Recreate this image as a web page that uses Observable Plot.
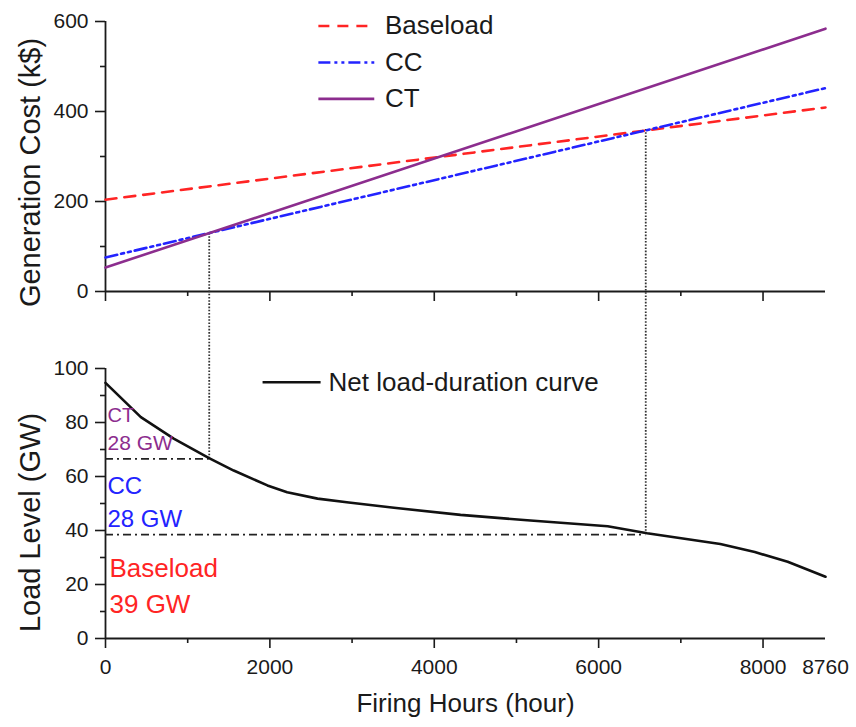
<!DOCTYPE html>
<html>
<head>
<meta charset="utf-8">
<script src="https://cdn.jsdelivr.net/npm/d3@7"></script>
<script src="https://cdn.jsdelivr.net/npm/@observablehq/plot@0.6"></script>
<style>
  html, body { margin: 0; padding: 0; background: #fff; overflow: hidden; }
  #chart { width: 856px; }
  #chart svg { display: block; }
</style>
</head>
<body>
<div id="chart"></div>
<script>
// ---------- Data ----------
// Top panel: generation cost (k$) versus firing hours, straight lines between the ends
const hoursEnds = [0, 8760];
const baseloadCost = [204, 409];
const ccCost = [75.6, 452];
const ctCost = [53.3, 584];
const technologies = ["Baseload", "CC", "CT"];

// Crossover points (cost lines intersect) and matching load levels
const crossoverHours = [1262, 6573];
const crossoverCost = [129, 360];
const crossoverLoad = [66.5, 38.5];

// Bottom panel: net load-duration curve
const loadHours = [0, 430, 830, 1260, 1560, 1970, 2210, 2580, 2960, 3510, 4320, 5130, 6110, 6590, 7480, 7900, 8300, 8760];
const loadGW    = [94.7, 82.0, 74.0, 66.8, 62.2, 56.7, 54.2, 51.8, 50.4, 48.4, 45.8, 43.8, 41.6, 39.0, 35.0, 32.0, 28.4, 22.9];

// Capacity annotations
const capacityLabels = ["CT", "28 GW", "CC", "28 GW", "Baseload", "39 GW"];

// Ticks
const costTicks = [0, 200, 400, 600];
const costMinor = [100, 300, 500];
const hourTicks = [0, 2000, 4000, 6000, 8000];
const hourMinor = [1000, 3000, 5000, 7000];
const hourLabels = [0, 2000, 4000, 6000, 8000, 8760];
const loadTicks = [0, 20, 40, 60, 80, 100];
const loadMinor = [10, 30, 50, 70, 90];

// ---------- Layout & style ----------
const W = 856;
const FONT = 'Arial, "Liberation Sans", Helvetica, sans-serif';
const INK = "#1a1a1a";
const mL = 105, mR = 31;
const xDomain = [0, 8760];
const seriesStyle = {
  Baseload: {values: baseloadCost, color: "#ff2424", dash: "11,8"},
  CC:       {values: ccCost,       color: "#2323ff", dash: "12,4,3,4,3,4"},
  CT:       {values: ctCost,       color: "#8c2d8e", dash: null}
};
const legendTop = {x1: 2590, x2: 3270, xText: 3400, y: [590, 509, 428]};
const legendBottom = {x1: 1911, x2: 2617, xText: 2714, y: 94.9};
const capStyle = [
  {y: 82.6, color: "#8c2d8e", size: 20, dx: 2},
  {y: 72.2, color: "#8c2d8e", size: 21, dx: 2},
  {y: 56.3, color: "#2323ff", size: 24, dx: 2},
  {y: 44.1, color: "#2323ff", size: 24, dx: 2},
  {y: 25.9, color: "#ff2424", size: 26, dx: 4},
  {y: 12.7, color: "#ff2424", size: 26, dx: 4}
];
const blank = () => "";
const plain = d => String(d);
const tickStyle = {stroke: INK, strokeWidth: 1.6, label: null};

// ---------- Top panel ----------
const topH = 320, topMT = 21, topMB = 29;
const topFrame = topH - topMT - topMB;
const topBelow = -topMB / topFrame * 600; // reaches the bottom edge of the top svg

const costRows = technologies.flatMap(name =>
  hoursEnds.map((h, i) => ({name, hours: h, cost: seriesStyle[name].values[i]})));

const idx2 = d3.range(crossoverHours.length);

const topPlot = Plot.plot({
  width: W, height: topH,
  marginLeft: mL, marginRight: mR, marginTop: topMT, marginBottom: topMB,
  x: {domain: xDomain},
  y: {domain: [0, 600]},
  style: {fontFamily: FONT, color: INK, background: "white"},
  marks: [
    Plot.axisY(costTicks, {...tickStyle, tickSize: 10, tickPadding: 7, fontSize: 21, tickFormat: plain, fill: INK}),
    Plot.axisY(costMinor, {...tickStyle, tickSize: 5, tickFormat: blank}),
    Plot.axisX(hourTicks, {...tickStyle, tickSize: 10, tickFormat: blank}),
    Plot.axisX(hourMinor, {...tickStyle, tickSize: 5, tickFormat: blank}),
    Plot.ruleX([0], {y1: 0, y2: 600, stroke: INK, strokeWidth: 1.8}),
    Plot.ruleY([0], {x1: 0, x2: 8760, stroke: INK, strokeWidth: 1.8}),
    // crossover dotted drop lines
    Plot.ruleX(idx2, {x: i => crossoverHours[i], y1: i => crossoverCost[i], y2: topBelow,
      stroke: "#333", strokeWidth: 1.8, strokeDasharray: "1.6,1.6"}),
    // cost lines
    ...technologies.map(name => Plot.line(costRows.filter(d => d.name === name), {
      x: "hours", y: "cost", stroke: seriesStyle[name].color, strokeWidth: 2.6,
      strokeDasharray: seriesStyle[name].dash
    })),
    // legend
    ...technologies.map((name, i) => Plot.link([name], {
      x1: legendTop.x1, x2: legendTop.x2, y1: legendTop.y[i], y2: legendTop.y[i],
      stroke: seriesStyle[name].color, strokeWidth: 2.6, strokeDasharray: seriesStyle[name].dash
    })),
    Plot.text(technologies, {x: legendTop.xText, y: (d, i) => legendTop.y[i], text: d => d,
      textAnchor: "start", fontSize: 26, fill: INK}),
    // y title
    Plot.text(["Generation Cost (k$)"], {frameAnchor: "left", dx: -75, dy: 16, rotate: -90,
      fontSize: 29, fill: INK, textAnchor: "middle"})
  ]
});

// ---------- Bottom panel ----------
const botH = 407, botMT = 48, botMB = 89;
const botFrame = botH - botMT - botMB;
const botAbove = 100 + botMT / botFrame * 100; // reaches the top edge of the bottom svg

const loadRows = loadHours.map((h, i) => ({hours: h, gw: loadGW[i]}));

const botPlot = Plot.plot({
  width: W, height: botH,
  marginLeft: mL, marginRight: mR, marginTop: botMT, marginBottom: botMB,
  x: {domain: xDomain},
  y: {domain: [0, 100]},
  style: {fontFamily: FONT, color: INK, background: "white"},
  marks: [
    Plot.axisY(loadTicks, {...tickStyle, tickSize: 10, tickPadding: 7, fontSize: 21, tickFormat: plain, fill: INK}),
    Plot.axisY(loadMinor, {...tickStyle, tickSize: 5, tickFormat: blank}),
    Plot.axisX(hourTicks, {...tickStyle, tickSize: 10, tickFormat: blank}),
    Plot.axisX(hourMinor, {...tickStyle, tickSize: 5, tickFormat: blank}),
    Plot.axisX(hourLabels, {tickSize: 0, tickPadding: 21, fontSize: 21, label: null, tickFormat: plain, fill: INK}),
    Plot.ruleX([0], {y1: 0, y2: 100, stroke: INK, strokeWidth: 1.8}),
    Plot.ruleY([0], {x1: 0, x2: 8760, stroke: INK, strokeWidth: 1.8}),
    // capacity boundary dash-dot lines
    Plot.ruleY(idx2, {y: i => crossoverLoad[i], x1: 0, x2: i => crossoverHours[i],
      stroke: "#222", strokeWidth: 1.8, strokeDasharray: "8,4,2,4"}),
    // crossover dotted lines continuing from the top panel
    Plot.ruleX(idx2, {x: i => crossoverHours[i], y1: i => crossoverLoad[i], y2: botAbove,
      stroke: "#333", strokeWidth: 1.8, strokeDasharray: "1.6,1.6"}),
    // load duration curve
    Plot.line(loadRows, {x: "hours", y: "gw", stroke: "#111", strokeWidth: 2.6}),
    // legend
    Plot.link(["Net load-duration curve"], {x1: legendBottom.x1, x2: legendBottom.x2,
      y1: legendBottom.y, y2: legendBottom.y, stroke: "#111", strokeWidth: 2.6}),
    Plot.text(["Net load-duration curve"], {x: legendBottom.xText, y: legendBottom.y, text: d => d,
      textAnchor: "start", fontSize: 26, fill: INK}),
    // capacity annotations
    ...capacityLabels.map((t, i) => Plot.text([t], {x: 0, y: capStyle[i].y, text: d => d,
      dx: capStyle[i].dx, textAnchor: "start", fontSize: capStyle[i].size, fill: capStyle[i].color})),
    // titles
    Plot.text(["Load Level (GW)"], {frameAnchor: "left", dx: -75, dy: 19, rotate: -90,
      fontSize: 29, fill: INK, textAnchor: "middle"}),
    Plot.text(["Firing Hours (hour)"], {frameAnchor: "bottom", dy: 73, fontSize: 26,
      fill: INK, textAnchor: "middle"})
  ]
});

const chart = document.getElementById("chart");
chart.appendChild(topPlot);
chart.appendChild(botPlot);
</script>
</body>
</html>
